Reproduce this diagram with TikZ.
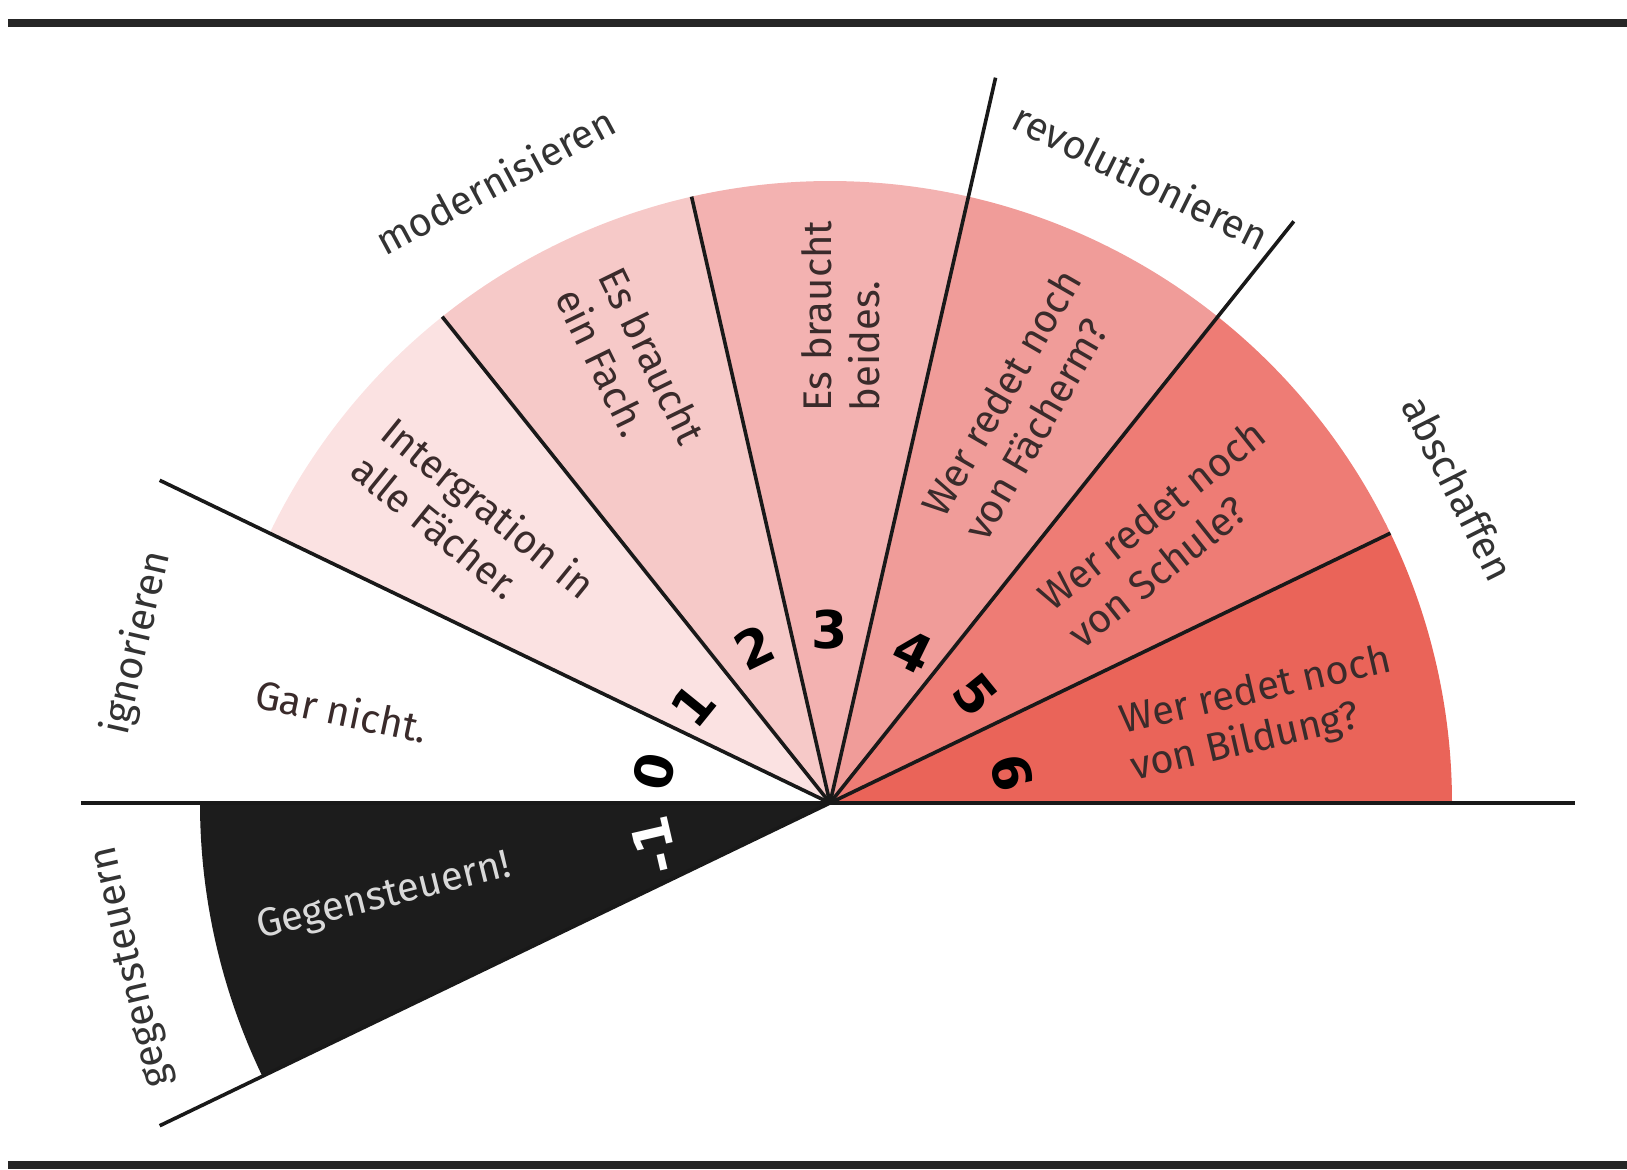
\documentclass[tikz,border=0pt]{standalone}
\usepackage{fontspec}
\setmainfont{Fira Sans}
\newfontfamily\numfont{DejaVu Sans}

\definecolor{segone}{HTML}{FBE2E2}
\definecolor{segtwo}{HTML}{F6C9C8}
\definecolor{segthree}{HTML}{F3B2B1}
\definecolor{segfour}{HTML}{F09C99}
\definecolor{segfive}{HTML}{EE7C75}
\definecolor{segsix}{HTML}{EA6459}
\definecolor{segblack}{HTML}{1C1C1C}
\definecolor{inkdark}{HTML}{3A2B2B}
\definecolor{labgray}{HTML}{333333}

\tikzset{
	spoke/.style={line width=1.8pt, draw=black!90},
	rule/.style={line width=4pt, draw=black!85},
	segtext/.style={text=inkdark, align=left, inner sep=0pt, font=\fontsize{20}{24}\selectfont},
	catlabel/.style={text=labgray, inner sep=0pt, font=\fontsize{20}{24}\selectfont},
	numlabel/.style={inner sep=0pt, font=\numfont\bfseries\fontsize{26}{26}\selectfont}
}

\begin{document}
\begin{tikzpicture}[x=50pt,y=50pt]
	\useasboundingbox (-8.30,-3.66) rectangle (7.97,8.03);

	% rules top and bottom
	\draw[rule] (-8.22,7.80) -- (7.97,7.80);
	\draw[rule] (-8.22,-3.62) -- (7.97,-3.62);

	\coordinate (c) at (0,0);

	% sectors
	\fill[segblack] (c) -- (180:6.3) arc[start angle=180, end angle=205.71, radius=6.3] -- cycle;
	\fill[segone] (c) -- (154.29:6.22) arc[start angle=154.29, end angle=128.57, radius=6.22] -- cycle;
	\fill[segtwo] (c) -- (128.57:6.22) arc[start angle=128.57, end angle=102.86, radius=6.22] -- cycle;
	\fill[segthree] (c) -- (102.86:6.22) arc[start angle=102.86, end angle=77.14, radius=6.22] -- cycle;
	\fill[segfour] (c) -- (77.14:6.22) arc[start angle=77.14, end angle=51.43, radius=6.22] -- cycle;
	\fill[segfive] (c) -- (51.43:6.22) arc[start angle=51.43, end angle=25.71, radius=6.22] -- cycle;
	\fill[segsix] (c) -- (25.71:6.22) arc[start angle=25.71, end angle=0, radius=6.22] -- cycle;

	% spokes
	\coordinate (axl) at (-7.49,0);
	\coordinate (axr) at (7.45,0);
	\coordinate (pa) at (205.71:7.44);
	\coordinate (pb) at (154.29:7.44);
	\coordinate (pc) at (128.57:6.22);
	\coordinate (pd) at (102.86:6.22);
	\coordinate (pe) at (77.14:7.44);
	\coordinate (pf) at (51.43:7.44);
	\coordinate (pg) at (25.71:6.22);
	\draw[spoke] (axl) -- (axr);
	\draw[spoke] (c) -- (pa);
	\draw[spoke] (c) -- (pb);
	\draw[spoke] (c) -- (pc);
	\draw[spoke] (c) -- (pd);
	\draw[spoke] (c) -- (pe);
	\draw[spoke] (c) -- (pf);
	\draw[spoke] (c) -- (pg);

	% categories
	\node[catlabel, rotate=103] (gegen) at (193.2:7.16) {gegensteuern};
	\node[catlabel, rotate=77] (ignor) at (167:7.11) {ignorieren};
	\node[catlabel, rotate=28.3] (modern) at (118.3:7.07) {modernisieren};
	\node[catlabel, rotate=-26.4] (revol) at (63.6:7.00) {revolutionieren};
	\node[catlabel, rotate=-63.4] (absch) at (26.6:7.03) {abschaffen};

	% sector texts
	\node[segtext, text=black!15, rotate=14] (tm) at (192:4.56) {Gegensteuern!};
	\node[segtext, rotate=-12] (t0) at (169.3:4.97) {Gar nicht.};
	\node[segtext, rotate=-39] (t1) at (142.1:4.51) {Intergration in\\alle Fächer.};
	\node[segtext, rotate=-64] (t2) at (114.5:4.80) {Es braucht\\ein Fach.};
	\node[segtext, rotate=90] (t3) at (88.7:4.87) {Es braucht\\beides.};
	\node[segtext, rotate=60] (t4) at (64.3:4.42) {Wer redet noch\\von Fächerm?};
	\node[segtext, rotate=38.6] (t5) at (38.7:4.31) {Wer redet noch\\von Schule?};
	\node[segtext, rotate=13] (t6) at (11.5:4.40) {Wer redet noch\\von Bildung?};

	% numbers
	\node[numlabel, text=white, rotate=103] (nm) at (193.7:1.81) {-1};
	\node[numlabel, rotate=77] (n0) at (170:1.79) {0};
	\node[numlabel, rotate=51] (n1) at (144.7:1.68) {1};
	\node[numlabel, rotate=26] (n2) at (116:1.73) {2};
	\node[numlabel] (n3) at (90:1.73) {3};
	\node[numlabel, rotate=-26] (n4) at (61.4:1.73) {4};
	\node[numlabel, rotate=-51] (n5) at (36.7:1.81) {5};
	\node[numlabel, rotate=-77] (n6) at (9.4:1.84) {6};
\end{tikzpicture}
\end{document}
